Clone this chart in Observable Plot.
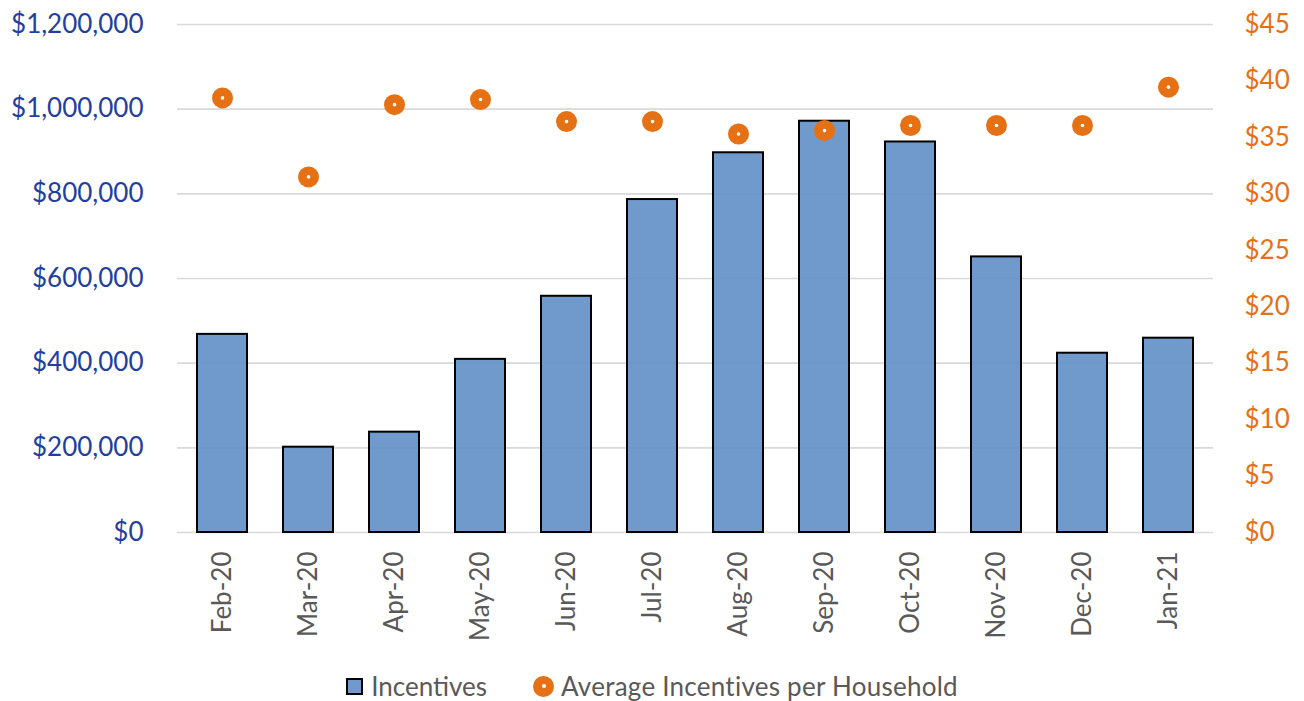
<!DOCTYPE html>
<html>
<head>
<meta charset="utf-8">
<script src="https://cdn.jsdelivr.net/npm/d3@7"></script>
<script src="https://cdn.jsdelivr.net/npm/@observablehq/plot@0.6"></script>
<style>
  html, body { margin: 0; padding: 0; background: #fff; }
  #wrap { position: relative; width: 1304px; height: 701px; font-family: Lato, "Open Sans", sans-serif; }
  #legend { position: absolute; left: 0; top: 668px; width: 1304px; height: 36px; display: flex; justify-content: center; align-items: center; font-size: 26px; color: #595959; }
  .sw-bar { width: 13px; height: 13px; background: #709ACB; border: 2px solid #000; margin-right: 8px; }
  .sw-dot { width: 21px; height: 21px; border-radius: 50%; background: #E67014; position: relative; margin-right: 7px; margin-left: 46px; }
  .sw-dot::after { content: ""; position: absolute; left: 8.5px; top: 8.5px; width: 4px; height: 4px; border-radius: 50%; background: #fff; }
  #legend .long { letter-spacing: 0.25px; }
</style>
</head>
<body>
<div id="wrap">
  <div id="chart"></div>
  <div id="legend">
    <span class="sw-bar"></span><span>Incentives</span>
    <span class="sw-dot"></span><span class="long">Average Incentives per Household</span>
  </div>
</div>
<script>
const months = ["Feb-20","Mar-20","Apr-20","May-20","Jun-20","Jul-20","Aug-20","Sep-20","Oct-20","Nov-20","Dec-20","Jan-21"];
const incentives = [468000, 201500, 237000, 409000, 558000, 786500, 897000, 971500, 922500, 651000, 423500, 459000];
const avgPerHousehold = [38.5, 31.5, 37.9, 38.35, 36.4, 36.4, 35.3, 35.6, 36.05, 36.05, 36.05, 39.45];
const leftTicks = [0, 200000, 400000, 600000, 800000, 1000000, 1200000];
const rightTicks = [0, 5, 10, 15, 20, 25, 30, 35, 40, 45];

const leftMax = 1200000, rightMax = 45;
const k = leftMax / rightMax;

const data = months.map((m, i) => ({month: m, inc: incentives[i], avg: avgPerHousehold[i], avgScaled: avgPerHousehold[i] * k}));

const fmtLeft = d3.format("$,.0f");

const chart = Plot.plot({
  width: 1304,
  height: 660,
  marginTop: 24,
  marginBottom: 128,
  marginLeft: 177,
  marginRight: 91,
  style: {fontFamily: "Lato, 'Open Sans', sans-serif", fontSize: "26px", background: "#fff"},
  x: {domain: months, paddingInner: 0.42, paddingOuter: 0.21, label: null},
  y: {domain: [0, leftMax], label: null},
  marks: [
    Plot.gridY(leftTicks, {stroke: "#d9d9d9", strokeOpacity: 1, strokeWidth: 1.6}),
    Plot.barY(data, {x: "month", y: "inc", fill: "#608FC5", fillOpacity: 0.9, stroke: "#000", strokeWidth: 2}),
    Plot.dot(data, {x: "month", y: "avgScaled", r: 10.5, fill: "#E67014"}),
    Plot.dot(data, {x: "month", y: "avgScaled", r: 1.8, fill: "#fff"}),
    Plot.axisY(leftTicks, {anchor: "left", tickSize: 0, tickPadding: 34, tickFormat: fmtLeft, fill: "#1f40a0", fontSize: 26, label: null}),
    Plot.axisY(rightTicks.map(v => v * k), {anchor: "right", tickSize: 0, tickPadding: 31, tickFormat: d => "$" + Math.round(d / k), fill: "#E67014", fontSize: 26, label: null}),
    Plot.axisX({tickRotate: -90, tickSize: 0, tickPadding: 19, fill: "#595959", fontSize: 26, label: null})
  ]
});
document.getElementById("chart").appendChild(chart);
</script>
</body>
</html>
